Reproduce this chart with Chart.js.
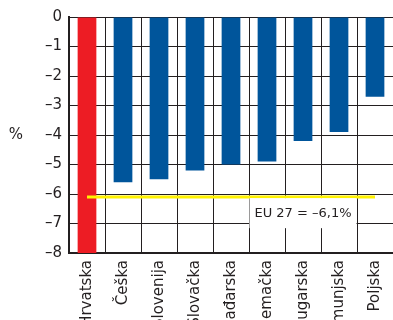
<!DOCTYPE html>
<html>
<head>
<meta charset="utf-8">
<script src="https://cdn.jsdelivr.net/npm/chart.js@4/dist/chart.umd.min.js"></script>
<style>
html,body{margin:0;padding:0;background:#fff;}
#wrap{width:393px;height:320px;position:relative;}
</style>
</head>
<body>
<div id="wrap"><canvas id="c" width="393" height="320"></canvas></div>
<script>
const categories = ['Hrvatska','Češka','Slovenija','Slovačka','Mađarska','Njemačka','Bugarska','Rumunjska','Poljska'];
const values = [-8.0, -5.6, -5.5, -5.2, -5.0, -4.9, -4.2, -3.9, -2.7];
const barColors = ['#ed1c24','#00559b','#00559b','#00559b','#00559b','#00559b','#00559b','#00559b','#00559b'];
const euValue = -6.1;
const euLabel = 'EU 27 = –6,1%';
const yTicks = [0, -1, -2, -3, -4, -5, -6, -7, -8];
const unitLabel = '%';

const FONT = '"DejaVu Sans", sans-serif';
const INK = '#231f20';

const extras = {
  id: 'extras',
  afterDatasetsDraw(chart) {
    const ctx = chart.ctx;
    const xs = chart.scales.x, ys = chart.scales.y;
    const cx = xs.getPixelForValue(6);
    const cy = ys.getPixelForValue(-6.65);
    ctx.save();
    ctx.font = '13px ' + FONT;
    const w = ctx.measureText(euLabel).width + 10;
    ctx.fillStyle = '#fff';
    ctx.fillRect(cx - w / 2, cy - 15, w, 30);
    ctx.fillStyle = INK;
    ctx.textAlign = 'center';
    ctx.textBaseline = 'middle';
    ctx.fillText(euLabel, cx, cy);
    ctx.font = '15px ' + FONT;
    ctx.fillText(unitLabel, 16, (chart.chartArea.top + chart.chartArea.bottom) / 2);
    ctx.restore();
  }
};

new Chart(document.getElementById('c'), {
  data: {
    labels: categories,
    datasets: [
      {
        type: 'line',
        data: categories.map(() => euValue),
        borderColor: '#fff200',
        borderWidth: 3,
        pointRadius: 0,
        fill: false,
        order: 0
      },
      {
        type: 'bar',
        data: values,
        backgroundColor: barColors,
        borderWidth: 0,
        barPercentage: 0.52,
        categoryPercentage: 1,
        order: 1
      }
    ]
  },
  options: {
    responsive: false,
    animation: false,
    devicePixelRatio: 1,
    layout: { padding: { top: 17, right: -2, left: 0, bottom: 0 } },
    plugins: { legend: { display: false }, tooltip: { enabled: false }, title: { display: false } },
    scales: {
      x: {
        offset: true,
        grid: { display: true, color: INK, lineWidth: 1, drawTicks: false, offset: true },
        border: { display: true, color: INK, width: 2 },
        ticks: {
          color: INK, font: { family: FONT, size: 15 },
          maxRotation: 90, minRotation: 90, padding: 7, autoSkip: false
        },
        afterFit(scale) { scale.height = 67; scale.paddingLeft = 0; scale.paddingRight = 0; }
      },
      y: {
        min: -8, max: 0,
        afterBuildTicks(scale) { scale.ticks = yTicks.map(v => ({ value: v })); },
        grid: { color: INK, lineWidth: 1, drawTicks: false },
        border: { display: true, color: INK, width: 2 },
        ticks: {
          color: INK, font: { family: FONT, size: 15 }, padding: 7,
          callback: v => (v < 0 ? '–' + Math.abs(v) : String(v))
        },
        afterFit(scale) { scale.width = 69; scale.paddingTop = 0; scale.paddingBottom = 0; }
      }
    }
  },
  plugins: [extras]
});
</script>
</body>
</html>
